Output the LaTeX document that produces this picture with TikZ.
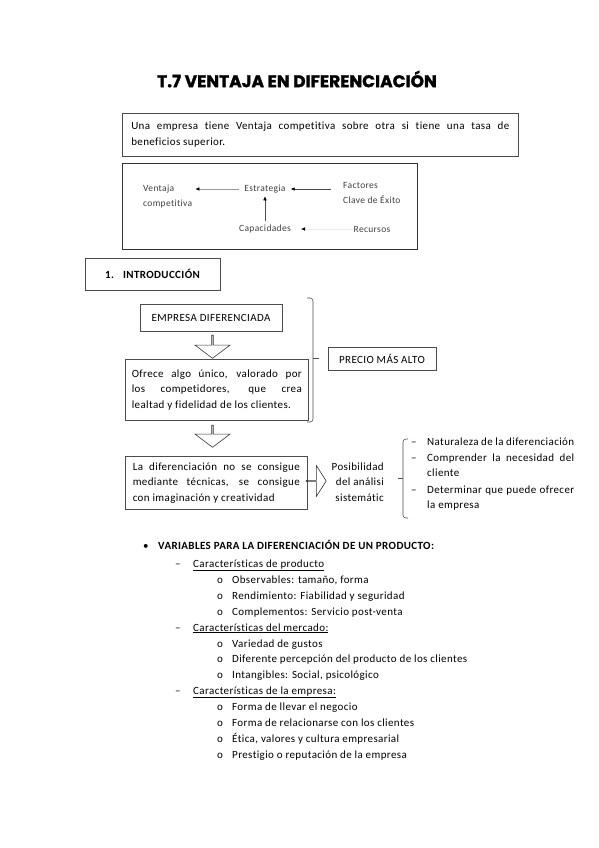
\documentclass[tikz,border=0pt]{standalone}
\usepackage{fontspec}
\setmainfont{Carlito}[LetterSpace=3.5, Ligatures=NoCommon]
\newfontfamily\titulo{Poppins}[BoldFeatures={FakeBold=1.5}]
\usetikzlibrary{arrows.meta,shapes.arrows,positioning}
\newcommand{\cuerpo}{\fontsize{11}{15.5}\selectfont\hyphenpenalty=10000\exhyphenpenalty=10000}
\newcommand{\chico}{\fontsize{9.5}{15}\selectfont}
\tikzset{
	caja/.style={draw=black!70, line width=0.6pt, font=\cuerpo},
	diag/.style={font=\chico, text=black!75, inner sep=1pt},
	hueca/.style={single arrow, draw=black!80, line width=0.6pt, inner sep=0pt, minimum width=35pt, single arrow head extend=6.5pt, single arrow tip angle=106},
	flechita/.style={-{Latex[length=4pt,width=3.5pt,black]}, line width=0.5pt},
	linea/.style={font=\cuerpo, anchor=base west, inner sep=0pt},
	llave/.style={draw=black!70, line width=0.6pt, rounded corners=3pt},
}

\begin{document}
\begin{tikzpicture}[x=1pt, y=-1pt]
		\useasboundingbox[fill=white] (0,0) rectangle (599,848);
		\node(tit)[font=\titulo\bfseries\fontsize{17}{20}\selectfont] at (297,79){T.7 VENTAJA EN DIFERENCIACIÓN};

		\node(def)[caja, anchor=north west, text width=378pt, inner xsep=9pt, minimum height=43pt, align=justify] at (122,113){Una empresa tiene Ventaja competitiva sobre otra si tiene una tasa de\linebreak beneficios superior.};

		\node(esq)[draw=black!80, line width=0.6pt, minimum width=295pt, minimum height=86pt, anchor=north west] at (122,163){};
		\node(vent)[diag, anchor=west, align=left] at (142,196){Ventaja\\competitiva};
		\node(estr)[diag] at (265,189){Estrategia};
		\node(fact)[diag, anchor=west, align=left] at (342,193){Factores\\Clave de Éxito};
		\node(cap)[diag] at (265,229){Capacidades};
		\node(rec)[diag] at (372,229){Recursos};
		\draw[flechita, draw=black!40, shorten <=4pt, shorten >=2pt] (estr.west) -- (vent.east |- estr.west);
		\draw[flechita, draw=black!70, shorten <=11pt, shorten >=4pt] (fact.west |- estr.east) -- (estr.east);
		\draw[flechita, draw=black!70, shorten <=3pt, shorten >=2pt] (cap.north) -- (estr.south);
		\draw[flechita, draw=black!8, shorten <=0pt, shorten >=9pt] (rec.west) -- (cap.east);

		\node(intro)[caja, minimum width=135pt, minimum height=32pt, font=\cuerpo\bfseries] at (152.5,274){1.\hspace{9pt}INTRODUCCIÓN};
		\node(emp)[caja, minimum width=142pt, minimum height=27pt] at (211,317.5){EMPRESA DIFERENCIADA};
		\node(f1)[hueca, shape border rotate=270, minimum height=23pt] at (212.5,346.5){};
		\node(ofr)[caja, anchor=north west, text width=170pt, inner xsep=6.5pt, minimum height=61pt, align=justify] at (125,359){Ofrece algo único, valorado por\linebreak los competidores, que crea\linebreak lealtad y fidelidad de los clientes.};
		\node(precio)[caja, minimum width=108pt, minimum height=23pt] at (382,358.5){PRECIO MÁS ALTO};
		\draw[llave] (307,298) -| (313,358) |- (307,422);
		\draw[llave] (313,358) -- (319,358);

		\node(f2)[hueca, shape border rotate=270, minimum height=22pt] at (212.5,436){};
		\node(dif)[caja, anchor=north west, text width=167pt, inner xsep=7.5pt, minimum height=53pt, align=justify] at (125,456){La diferenciación no se consigue\linebreak mediante técnicas, se consigue\linebreak con imaginación y creatividad};
		\node(f3)[hueca, minimum width=31pt, minimum height=20pt, single arrow head extend=7.5pt, single arrow tip angle=115] at (316,481){};
		\node(pos)[font=\cuerpo, align=right, anchor=east, inner sep=0pt] at (384,482){Posibilidad\\del análisi\\sistemátic};
		\draw[llave] (408,439) -| (403,478) |- (408,518);
		\draw[llave] (403,478) -- (398,478);

		\node(g1)[linea] at (411,445){–};
		\node(n1)[linea, text width=147pt, align=justify] at (427,445){Naturaleza de la diferenciación};
		\node(g2)[linea] at (411,461){–};
		\node(n2)[linea, text width=147pt, align=justify] at (427,461){Comprender la necesidad del\linebreak cliente};
		\node(g3)[linea] at (411,493){–};
		\node(n3)[linea, text width=147pt, align=justify] at (427,493){Determinar que puede ofrecer\linebreak la empresa};

		\node(bul)[linea] at (143,549){•};
		\node(var)[linea, font=\cuerpo\bfseries] at (158,549){VARIABLES PARA LA DIFERENCIACIÓN DE UN PRODUCTO:};
		\node(g4)[linea] at (175,567){–};
		\node(c1)[linea] at (193,567){\underline{Características de producto}};
		\node(g5)[linea] at (175,631){–};
		\node(c2)[linea] at (193,631){\underline{Características del mercado:}};
		\node(g6)[linea] at (175,694){–};
		\node(c3)[linea] at (193,694){\underline{Características de la empresa:}};
		\foreach \n/\y/\t in {1/583/{Observables: tamaño, forma}, 2/599/{Rendimiento: Fiabilidad y seguridad}, 3/615/{Complementos: Servicio post-venta}, 4/647/{Variedad de gustos}, 5/662/{Diferente percepción del producto de los clientes}, 6/678/{Intangibles: Social, psicológico}, 7/710/{Forma de llevar el negocio}, 8/726/{Forma de relacionarse con los clientes}, 9/742/{Ética, valores y cultura empresarial}, 10/758/{Prestigio o reputación de la empresa}}{
			\node(o\n)[linea] at (217,\y){o};
			\node(t\n)[linea] at (232,\y){\t};
		}
	\end{tikzpicture}
\end{document}
